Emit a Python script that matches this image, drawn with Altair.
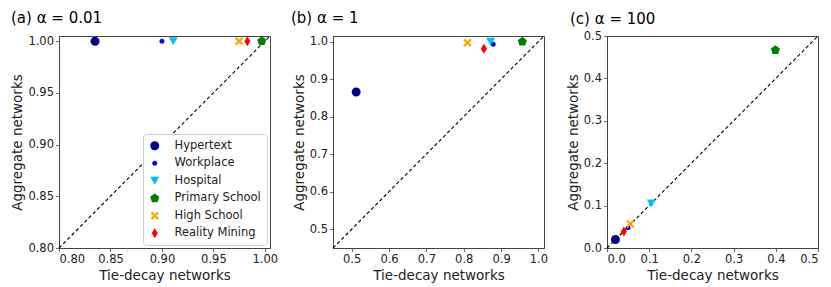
import altair as alt
import pandas as pd

names = ["Hypertext", "Workplace", "Hospital", "Primary School", "High School", "Reality Mining"]
colors = ["#000080", "#0000ff", "#00bfff", "#008000", "#ffa500", "#ff0000"]

# panel (a) alpha = 0.01
a_x = [0.835, 0.900, 0.911, 0.997, 0.975, 0.983]
a_y = [1.000, 1.000, 1.000, 1.000, 1.000, 1.000]
# panel (b) alpha = 1
b_x = [0.512, 0.879, 0.872, 0.957, 0.810, 0.854]
b_y = [0.866, 0.993, 1.000, 1.000, 0.997, 0.981]
# panel (c) alpha = 100
c_x = [0.020, 0.050, 0.105, 0.399, 0.055, 0.040]
c_y = [0.020, 0.048, 0.105, 0.467, 0.057, 0.039]

a_ticks = [0.80, 0.85, 0.90, 0.95, 1.00]
b_ticks = [0.5, 0.6, 0.7, 0.8, 0.9, 1.0]
c_ticks = [0.0, 0.1, 0.2, 0.3, 0.4, 0.5]
a_dom = [0.80, 1.005]
b_dom = [0.45, 1.015]
c_dom = [0.0, 0.5]

# marker glyphs (custom paths, drawn at a common symbol size)
big_circle = "M0.9,0A0.9,0.9 0 1,1 -0.9,0A0.9,0.9 0 1,1 0.9,0Z"
small_circle = "M0.5,0A0.5,0.5 0 1,1 -0.5,0A0.5,0.5 0 1,1 0.5,0Z"
tri_down = "M-0.9,-0.78L0.9,-0.78L0,0.78Z"
pentagon = "M0,-0.96L0.913,-0.297L0.564,0.777L-0.564,0.777L-0.913,-0.297Z"
xa, xe = 0.84, 0.32
x_mark = (f"M{-xa},{-xa+xe}L{-xa+xe},{-xa}L0,{-xe}L{xa-xe},{-xa}L{xa},{-xa+xe}L{xe},0"
          f"L{xa},{xa-xe}L{xa-xe},{xa}L0,{xe}L{-xa+xe},{xa}L{-xa},{xa-xe}L{-xe},0Z")
thin_diamond = "M0,-1L0.6,0L0,1L-0.6,0Z"
shapes = [big_circle, small_circle, tri_down, pentagon, x_mark, thin_diamond]

FONT = "DejaVu Sans"


def panel(xs, ys, dom, ticks, fmt, title, show_legend, title_dx, title_off):
    df = pd.DataFrame({"dataset": names, "x": xs, "y": ys})
    diag = pd.DataFrame({"v": dom})
    sc = alt.Scale(domain=dom, nice=False, zero=False)
    if show_legend:
        leg = alt.Legend(title=None, orient="bottom-right", offset=3, padding=6,
                         fillColor="white", strokeColor="#cccccc", cornerRadius=3,
                         labelFontSize=11.5, labelFont=FONT, labelColor="#222222",
                         symbolSize=100, rowPadding=4.5, labelOffset=14, symbolStrokeWidth=0)
    else:
        leg = None
    line = alt.Chart(diag).mark_line(color="black", strokeDash=[3.5, 2.5], strokeWidth=1.1).encode(
        x=alt.X("v:Q", scale=sc),
        y=alt.Y("v:Q", scale=sc),
    )
    pts = alt.Chart(df).mark_point(filled=True, size=100, opacity=1, strokeWidth=0, clip=True).encode(
        x=alt.X("x:Q", scale=sc, axis=alt.Axis(values=ticks, format=fmt, title="Tie-decay networks")),
        y=alt.Y("y:Q", scale=sc, axis=alt.Axis(values=ticks, format=fmt, title="Aggregate networks")),
        color=alt.Color("dataset:N", scale=alt.Scale(domain=names, range=colors), legend=leg),
        shape=alt.Shape("dataset:N", scale=alt.Scale(domain=names, range=shapes), legend=leg),
        order=alt.Order("idx:Q"),
    ).transform_window(idx="row_number()")
    return alt.layer(line, pts).properties(
        width=211, height=212,
        title=alt.TitleParams(title, anchor="start", frame="group", fontSize=15,
                              fontWeight="normal", font=FONT, offset=title_off, dx=title_dx,
                              color="black"),
    ).resolve_scale(color="independent", shape="independent")


pa = panel(a_x, a_y, a_dom, a_ticks, ".2f", "(a) α = 0.01", True, -48, 8)
pb = panel(b_x, b_y, b_dom, b_ticks, ".1f", "(b) α = 1", False, -42, 8)
pc = panel(c_x, c_y, c_dom, c_ticks, ".1f", "(c) α = 100", False, -37, 3)

chart = alt.hconcat(pa, pb, pc, spacing=63, bounds="flush").resolve_scale(
    color="independent", shape="independent"
).resolve_legend(color="independent", shape="independent").properties(
    padding={"left": 2, "top": 2, "right": 2, "bottom": 2}
).configure_view(stroke="#444444", strokeWidth=1).configure_axis(
    grid=False, domainColor="#444444", tickColor="#444444", tickSize=3.5, tickWidth=0.8,
    labelFont=FONT, labelFontSize=11.5, labelColor="#222222", labelPadding=2,
    titleFont=FONT, titleFontSize=13.5, titleFontWeight="normal", titleColor="#222222",
    titlePadding=3,
)

chart.save("out.html", embed_options={"renderer": "svg", "actions": False})
